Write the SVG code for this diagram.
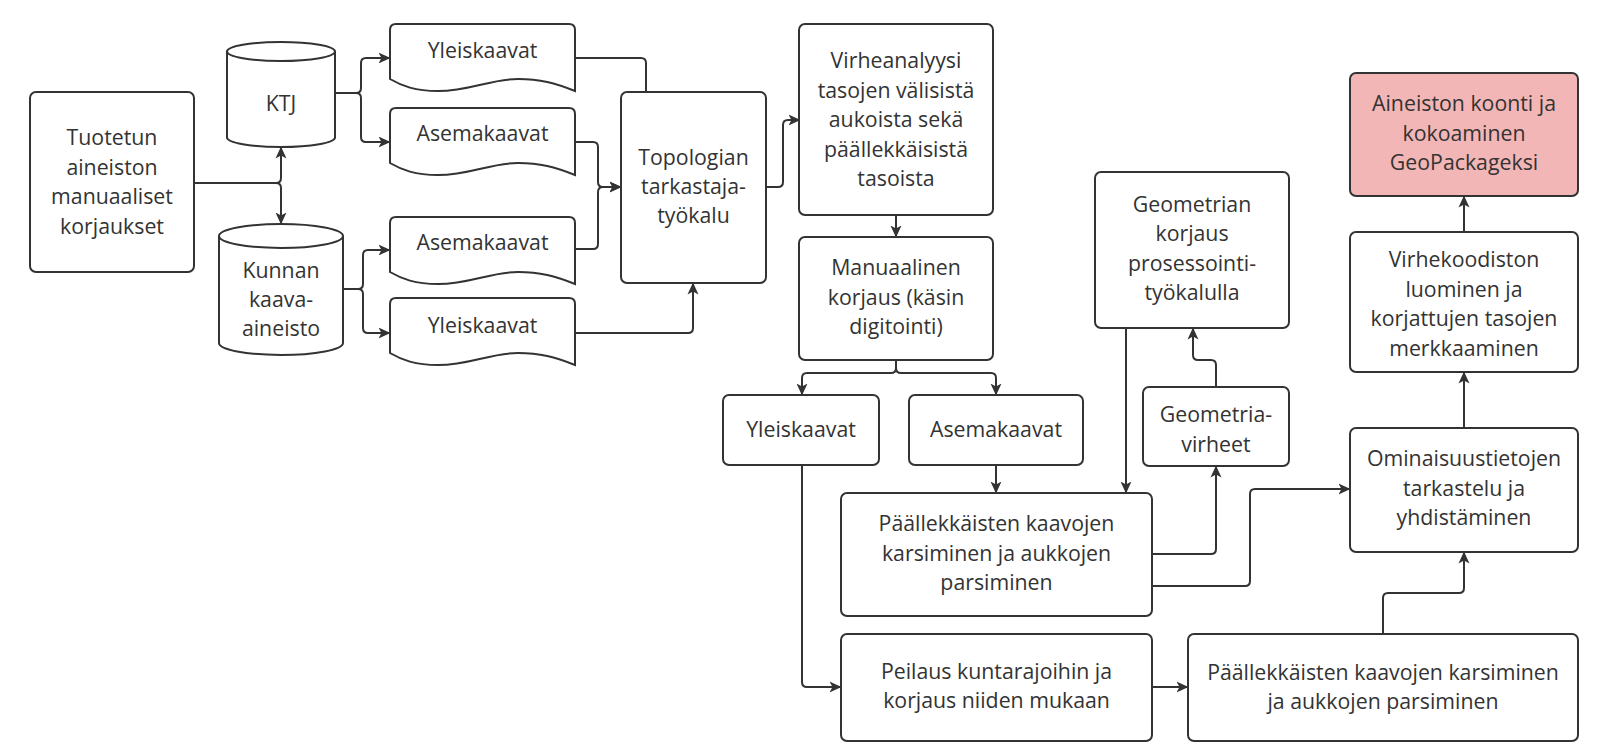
<svg xmlns="http://www.w3.org/2000/svg" width="1600" height="755" viewBox="0 0 1600 755">
<style>
.box{fill:#ffffff;stroke:#333333;stroke-width:2}
.pink{fill:#f3b6b6;stroke:#333333;stroke-width:2}
.t{font-family:"Open Sans","Noto Sans","Liberation Sans",sans-serif;font-size:21.3px;fill:#333333;text-anchor:middle}
.c{fill:none;stroke:#333333;stroke-width:2;marker-end:url(#arr)}
.cn{fill:none;stroke:#333333;stroke-width:2}
</style>
<defs>
<marker id="arr" viewBox="0 0 12 12" refX="11.5" refY="6" markerWidth="12" markerHeight="12" markerUnits="userSpaceOnUse" orient="auto">
<path d="M0,0.5 L12,6 L0,11.5 L3,6 Z" fill="#333333"/>
</marker>
<path id="doc" d="M0,6 Q0,0 6,0 H179 Q185,0 185,6 V67 C165,59 150,55 128,55 C100,55 80,67 48,67 C25,67 12,62 0,55 Z"/>
</defs>
<rect width="1600" height="755" fill="#ffffff"/>

<g id="connectors">
<path class="c" d="M194,183 H276 Q281,183 281,178 V147"/>
<path class="c" d="M194,183 H276 Q281,183 281,188 V224"/>
<path class="c" d="M335,93 H356 Q361,93 361,88 V63 Q361,58 366,58 H390"/>
<path class="c" d="M335,93 H356 Q361,93 361,98 V137 Q361,142 366,142 H390"/>
<path class="c" d="M344,289 H358 Q363,289 363,284 V255 Q363,250 368,250 H390"/>
<path class="c" d="M344,289 H358 Q363,289 363,294 V328 Q363,333 368,333 H390"/>
<path class="cn" d="M575,58 H641 Q646,58 646,63 V92"/>
<path d="M694,93 L699.5,104 L694,101 L688.5,104 Z" fill="#333333"/>
<path class="c" d="M575,142 H593 Q598,142 598,147 V182 Q598,187 603,187 H621"/>
<path class="c" d="M575,249 H593 Q598,249 598,244 V192 Q598,187 603,187 H621"/>
<path class="c" d="M575,333 H688 Q693,333 693,328 V283"/>
<path class="c" d="M766,187 H778 Q783,187 783,182 V125 Q783,120 788,120 H800"/>
<path class="c" d="M896,215 V237"/>
<path class="c" d="M896,360 V368 Q896,373 891,373 H807 Q802,373 802,378 V395"/>
<path class="c" d="M896,360 V368 Q896,373 901,373 H991 Q996,373 996,378 V395"/>
<path class="c" d="M996,465 V493"/>
<path class="c" d="M802,465 V682 Q802,687 807,687 H841"/>
<path class="c" d="M1152,687 H1188"/>
<path class="c" d="M1126,328 V493"/>
<path class="c" d="M1152,554 H1211 Q1216,554 1216,549 V466"/>
<path class="c" d="M1216,387 V365 Q1216,360 1211,360 H1198 Q1193,360 1193,355 V328"/>
<path class="c" d="M1152,586 H1245 Q1250,586 1250,581 V494 Q1250,489 1255,489 H1350"/>
<path class="c" d="M1383,634 V598 Q1383,593 1388,593 H1459 Q1464,593 1464,588 V552"/>
<path class="c" d="M1464,428 V372"/>
<path class="c" d="M1464,232 V196"/>
</g>

<g id="n-tuotetun">
<rect class="box" x="30" y="92" width="164" height="180" rx="6"/>
<text class="t" x="112" y="145">Tuotetun</text>
<text class="t" x="112" y="174.5">aineiston</text>
<text class="t" x="112" y="204">manuaaliset</text>
<text class="t" x="112" y="233.5">korjaukset</text>
</g>

<g id="n-ktj">
<path class="box" d="M227,51.5 A54,9.5 0 0 1 335,51.5 V137.5 A54,9.5 0 0 1 227,137.5 Z"/>
<path class="cn" d="M227,51.5 A54,9.5 0 0 0 335,51.5"/>
<text class="t" x="281" y="111">KTJ</text>
</g>

<g id="n-kunnan">
<path class="box" d="M219,236 A62,12 0 0 1 343,236 V343 A62,12 0 0 1 219,343 Z"/>
<path class="cn" d="M219,236 A62,12 0 0 0 343,236"/>
<text class="t" x="281" y="278">Kunnan</text>
<text class="t" x="281" y="307">kaava-</text>
<text class="t" x="281" y="336">aineisto</text>
</g>

<g id="n-yleis1">
<use href="#doc" class="box" transform="translate(390,24)"/>
<text class="t" x="482.5" y="58">Yleiskaavat</text>
</g>
<g id="n-asema1">
<use href="#doc" class="box" transform="translate(390,108)"/>
<text class="t" x="482.5" y="141">Asemakaavat</text>
</g>
<g id="n-asema2">
<use href="#doc" class="box" transform="translate(390,217)"/>
<text class="t" x="482.5" y="250">Asemakaavat</text>
</g>
<g id="n-yleis2">
<use href="#doc" class="box" transform="translate(390,298)"/>
<text class="t" x="482.5" y="333">Yleiskaavat</text>
</g>

<g id="n-topologia">
<rect class="box" x="621" y="92" width="145" height="191" rx="6"/>
<text class="t" x="693.5" y="165">Topologian</text>
<text class="t" x="693.5" y="194">tarkastaja-</text>
<text class="t" x="693.5" y="223">työkalu</text>
</g>

<g id="n-virheanalyysi">
<rect class="box" x="799" y="24" width="194" height="191" rx="6"/>
<text class="t" x="896" y="68">Virheanalyysi</text>
<text class="t" x="896" y="97.5">tasojen välisistä</text>
<text class="t" x="896" y="127">aukoista sekä</text>
<text class="t" x="896" y="156.5">päällekkäisistä</text>
<text class="t" x="896" y="186">tasoista</text>
</g>

<g id="n-manuaalinen">
<rect class="box" x="799" y="237" width="194" height="123" rx="6"/>
<text class="t" x="896" y="275">Manuaalinen</text>
<text class="t" x="896" y="304.5">korjaus (käsin</text>
<text class="t" x="896" y="334">digitointi)</text>
</g>

<g id="n-yleis3">
<rect class="box" x="723" y="395" width="156" height="70" rx="6"/>
<text class="t" x="801" y="437">Yleiskaavat</text>
</g>
<g id="n-asema3">
<rect class="box" x="909" y="395" width="174" height="70" rx="6"/>
<text class="t" x="996" y="437">Asemakaavat</text>
</g>

<g id="n-paallekkaisten1">
<rect class="box" x="841" y="493" width="311" height="123" rx="6"/>
<text class="t" x="996.5" y="531">Päällekkäisten kaavojen</text>
<text class="t" x="996.5" y="560.5">karsiminen ja aukkojen</text>
<text class="t" x="996.5" y="590">parsiminen</text>
</g>

<g id="n-peilaus">
<rect class="box" x="841" y="634" width="311" height="107" rx="6"/>
<text class="t" x="996.5" y="679">Peilaus kuntarajoihin ja</text>
<text class="t" x="996.5" y="708">korjaus niiden mukaan</text>
</g>

<g id="n-paallekkaisten2">
<rect class="box" x="1188" y="634" width="390" height="107" rx="6"/>
<text class="t" x="1383" y="680">Päällekkäisten kaavojen karsiminen</text>
<text class="t" x="1383" y="709">ja aukkojen parsiminen</text>
</g>

<g id="n-geomkorjaus">
<rect class="box" x="1095" y="172" width="194" height="156" rx="6"/>
<text class="t" x="1192" y="212">Geometrian</text>
<text class="t" x="1192" y="241">korjaus</text>
<text class="t" x="1192" y="270.5">prosessointi-</text>
<text class="t" x="1192" y="300">työkalulla</text>
</g>

<g id="n-geomvirheet">
<rect class="box" x="1143" y="387" width="146" height="79" rx="6"/>
<text class="t" x="1216" y="422">Geometria-</text>
<text class="t" x="1216" y="451.5">virheet</text>
</g>

<g id="n-aineisto">
<rect class="pink" x="1350" y="73" width="228" height="123" rx="6"/>
<text class="t" x="1464" y="111">Aineiston koonti ja</text>
<text class="t" x="1464" y="140.5">kokoaminen</text>
<text class="t" x="1464" y="170">GeoPackageksi</text>
</g>

<g id="n-virhekoodisto">
<rect class="box" x="1350" y="232" width="228" height="140" rx="6"/>
<text class="t" x="1464" y="267">Virhekoodiston</text>
<text class="t" x="1464" y="296.5">luominen ja</text>
<text class="t" x="1464" y="326">korjattujen tasojen</text>
<text class="t" x="1464" y="355.5">merkkaaminen</text>
</g>

<g id="n-ominaisuus">
<rect class="box" x="1350" y="428" width="228" height="124" rx="6"/>
<text class="t" x="1464" y="466">Ominaisuustietojen</text>
<text class="t" x="1464" y="495.5">tarkastelu ja</text>
<text class="t" x="1464" y="525">yhdistäminen</text>
</g>
</svg>
